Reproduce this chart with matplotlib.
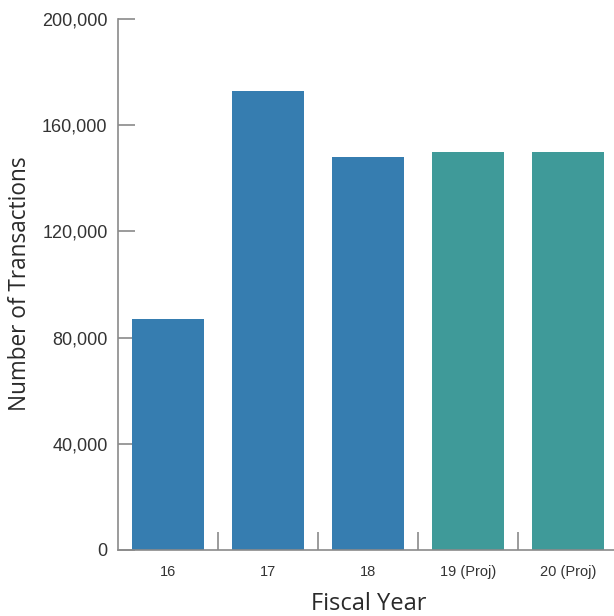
import matplotlib
matplotlib.use("Agg")
import matplotlib.pyplot as plt
from matplotlib.ticker import FixedLocator, FuncFormatter

years = ["16", "17", "18", "19 (Proj)", "20 (Proj)"]
transactions = [87000, 173000, 148000, 150000, 150000]
projected = [False, False, False, True, True]
y_ticks = [0, 40000, 80000, 120000, 160000, 200000]

actual_color = "#367db0"
proj_color = "#3f9a99"
axis_color = "#8a8a8a"
text_color = "#333333"

W, H = 614, 616
fig = plt.figure(figsize=(W / 100, H / 100), dpi=100)
left, right, top, bottom = 118, 618, 19, 550
ax = fig.add_axes([left / W, 1 - bottom / H, (right - left) / W, (bottom - top) / H])

x = list(range(len(years)))
colors = [proj_color if p else actual_color for p in projected]
ax.bar(x, transactions, width=0.72, color=colors, zorder=2)

ax.set_xlim(-0.5, len(years) - 0.5)
ax.set_ylim(0, 200000)

for s in ["top", "right"]:
    ax.spines[s].set_visible(False)
for s in ["left", "bottom"]:
    ax.spines[s].set_color(axis_color)
    ax.spines[s].set_linewidth(1.2)

tick_font = ["Liberation Sans", "DejaVu Sans"]

ax.yaxis.set_major_locator(FixedLocator(y_ticks))
ax.yaxis.set_major_formatter(FuncFormatter(lambda v, _: f"{int(v):,}"))
ax.tick_params(axis="y", direction="in", length=12, width=1.2, color=axis_color,
               pad=7.5, labelsize=13, labelcolor=text_color)
for lab in ax.get_yticklabels():
    lab.set_family(tick_font)

# x ticks mark the boundaries between categories; labels sit at centres
ax.xaxis.set_major_locator(FixedLocator([i + 0.5 for i in x[:-1]]))
ax.xaxis.set_major_formatter(FuncFormatter(lambda v, _: ""))
ax.xaxis.set_minor_locator(FixedLocator(x))
ax.set_xticklabels(years, minor=True)
ax.tick_params(axis="x", which="major", direction="in", length=13, width=1.2, color=axis_color)
ax.tick_params(axis="x", which="minor", length=0, pad=11, labelsize=10.5, labelcolor=text_color)
for lab in ax.get_xticklabels(minor=True):
    lab.set_family(tick_font)

label_font = dict(family=["Open Sans", "DejaVu Sans"], color="#2a2a2a")
fig.text(369 / W, 1 - 604 / H, "Fiscal Year", ha="center", va="center", fontsize=17, **label_font)
fig.text(20 / W, 1 - 284 / H, "Number of Transactions", rotation=90, ha="center", va="center",
         fontsize=16.3, **label_font)

fig.savefig("out.png", dpi=100)
